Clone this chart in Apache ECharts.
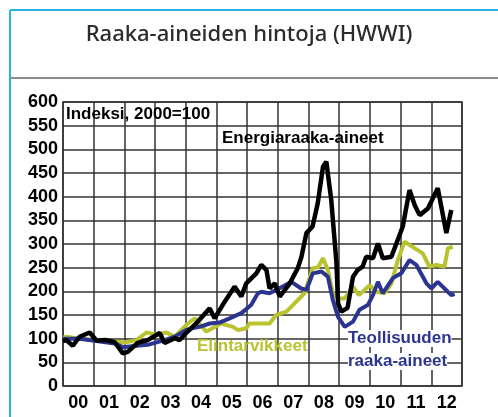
<!DOCTYPE html>
<html>
<head>
    <meta charset="utf-8" />
    <title>Raaka-aineiden hintoja</title>
    <script src="https://cdn.jsdelivr.net/npm/echarts@6/dist/echarts.min.js"></script>
    <style>
        html, body { margin: 0; padding: 0; background: #fff; }
    </style>
</head>
<body>
<div id="main" style="width: 498px;height:417px;"></div>
<script type="text/javascript">
    // vuodet (x-akselin luokat)
    var years = ['00', '01', '02', '03', '04', '05', '06', '07', '08', '09', '10', '11', '12'];

    // [vuotta vuodesta 2000, indeksi]
    var energia = [
        [0.00, 95], [0.11, 97], [0.32, 85], [0.54, 104], [0.87, 113], [1.09, 96], [1.41, 97],
        [1.68, 93], [1.95, 69], [2.11, 72], [2.43, 91], [2.76, 97], [3.15, 112], [3.31, 91],
        [3.64, 101], [3.80, 97], [4.06, 115], [4.35, 133], [4.78, 164], [4.94, 143], [5.20, 171],
        [5.59, 210], [5.81, 189], [5.97, 217], [6.30, 238], [6.46, 256], [6.63, 245], [6.73, 206],
        [6.90, 217], [7.06, 189], [7.39, 217], [7.65, 249], [7.77, 273], [7.93, 323], [8.13, 337],
        [8.30, 386], [8.47, 463], [8.58, 474], [8.74, 393], [8.91, 260], [8.96, 175], [9.07, 157],
        [9.27, 165], [9.45, 231], [9.60, 245], [9.76, 252], [9.88, 273], [10.10, 270], [10.26, 301],
        [10.42, 270], [10.70, 273], [11.07, 337], [11.29, 414], [11.46, 382], [11.62, 361],
        [11.89, 375], [12.21, 418], [12.49, 323], [12.65, 372]
    ];
    var elintarvikkeet = [
        [0.00, 102], [0.11, 104], [0.54, 100], [1.09, 97], [1.68, 94], [2.01, 92], [2.39, 97],
        [2.72, 113], [3.04, 108], [3.37, 113], [3.64, 104], [4.07, 132], [4.29, 143], [4.67, 115],
        [5.16, 132], [5.54, 125], [5.70, 118], [5.97, 122], [6.08, 132], [6.73, 132], [6.95, 150],
        [7.28, 157], [7.55, 175], [7.87, 196], [8.14, 249], [8.31, 251], [8.47, 270], [8.63, 245],
        [8.79, 196], [8.96, 185], [9.18, 185], [9.45, 210], [9.64, 192], [9.99, 213], [10.21, 199],
        [10.48, 196], [10.70, 217], [10.91, 266], [11.13, 305], [11.29, 298], [11.56, 287],
        [11.72, 280], [11.94, 252], [12.16, 256], [12.43, 252], [12.54, 291], [12.70, 294]
    ];
    var teollisuus = [
        [0.00, 100], [0.54, 100], [1.09, 95], [1.68, 90], [1.95, 82], [2.40, 85], [2.76, 87],
        [3.31, 97], [3.64, 104], [4.00, 118], [4.20, 122], [4.45, 125], [4.78, 132], [5.10, 134],
        [5.43, 143], [5.81, 154], [6.13, 171], [6.35, 196], [6.46, 199], [6.73, 196], [6.95, 203],
        [7.44, 220], [7.48, 224], [7.76, 206], [7.93, 203], [8.14, 238], [8.42, 242], [8.63, 231],
        [8.79, 182], [8.96, 146], [9.18, 125], [9.45, 136], [9.66, 161], [9.93, 171], [10.10, 192],
        [10.26, 220], [10.42, 196], [10.75, 228], [11.02, 238], [11.29, 266], [11.51, 256],
        [11.84, 217], [12.00, 206], [12.21, 220], [12.43, 206], [12.65, 192], [12.76, 194]
    ];

    var myChart = echarts.init(document.getElementById('main'));
    var axisFont = { color: '#000', fontFamily: 'Liberation Sans, Arial', fontWeight: 'bold', fontSize: 18 };
    var labelFont = 'bold 17px "Liberation Sans", Arial';

    var option = {
        animation: false,
        backgroundColor: '#fff',
        grid: { left: 63, top: 102, right: 36, bottom: 31, show: true, borderColor: '#333', borderWidth: 1.5 },
        xAxis: [
            {
                type: 'category',
                data: years,
                boundaryGap: true,
                axisLine: { show: false },
                axisTick: { show: false },
                axisLabel: Object.assign({ margin: 8 }, axisFont),
                splitLine: { show: true, lineStyle: { color: '#333', width: 1.5 } }
            },
            { type: 'value', min: 0, max: 13, show: false }
        ],
        yAxis: {
            type: 'value',
            min: 0, max: 600, interval: 50,
            axisLine: { show: false },
            axisTick: { show: false },
            axisLabel: Object.assign({ margin: 5 }, axisFont),
            splitLine: { lineStyle: { color: '#333', width: 1.5 } }
        },
        series: [
            { name: 'Elintarvikkeet', type: 'line', xAxisIndex: 1, data: elintarvikkeet, showSymbol: false,
              lineStyle: { color: '#b9c32f', width: 4 } },
            { name: 'Teollisuuden raaka-aineet', type: 'line', xAxisIndex: 1, data: teollisuus, showSymbol: false,
              lineStyle: { color: '#2b3590', width: 4 } },
            { name: 'Energiaraaka-aineet', type: 'line', xAxisIndex: 1, data: energia, showSymbol: false,
              lineStyle: { color: '#000', width: 4.5 } }
        ],
        graphic: [
            // kehys
            { type: 'line', shape: { x1: 10, y1: 10, x2: 498, y2: 10 }, style: { stroke: '#2ab4e6', lineWidth: 2 } },
            { type: 'line', shape: { x1: 10, y1: 10, x2: 10, y2: 417 }, style: { stroke: '#2ab4e6', lineWidth: 2 } },
            { type: 'line', shape: { x1: 11, y1: 78, x2: 498, y2: 78 }, style: { stroke: '#666', lineWidth: 1.5 } },
            { type: 'text', left: 'center', top: 24, z: 10,
              style: { text: 'Raaka-aineiden hintoja (HWWI)', font: '500 22px "Noto Sans"', fill: '#2b2b2b' } },
            // tekstit kuvaajassa
            { type: 'text', x: 66, y: 106, z: 10,
              style: { text: 'Indeksi, 2000=100', font: labelFont, fill: '#000' } },
            { type: 'text', x: 222, y: 130, z: 10,
              style: { text: 'Energiaraaka-aineet', font: labelFont, fill: '#000' } },
            { type: 'text', x: 197, y: 338, z: 10,
              style: { text: 'Elintarvikkeet', font: labelFont, fill: '#b9c32f' } },
            { type: 'text', x: 348, y: 330, z: 10,
              style: { text: 'Teollisuuden', font: labelFont, fill: '#2b3590', backgroundColor: '#fff' } },
            { type: 'text', x: 348, y: 353, z: 10,
              style: { text: 'raaka-aineet', font: labelFont, fill: '#2b3590', backgroundColor: '#fff' } }
        ]
    };
    myChart.setOption(option);
</script>
</body>
</html>
